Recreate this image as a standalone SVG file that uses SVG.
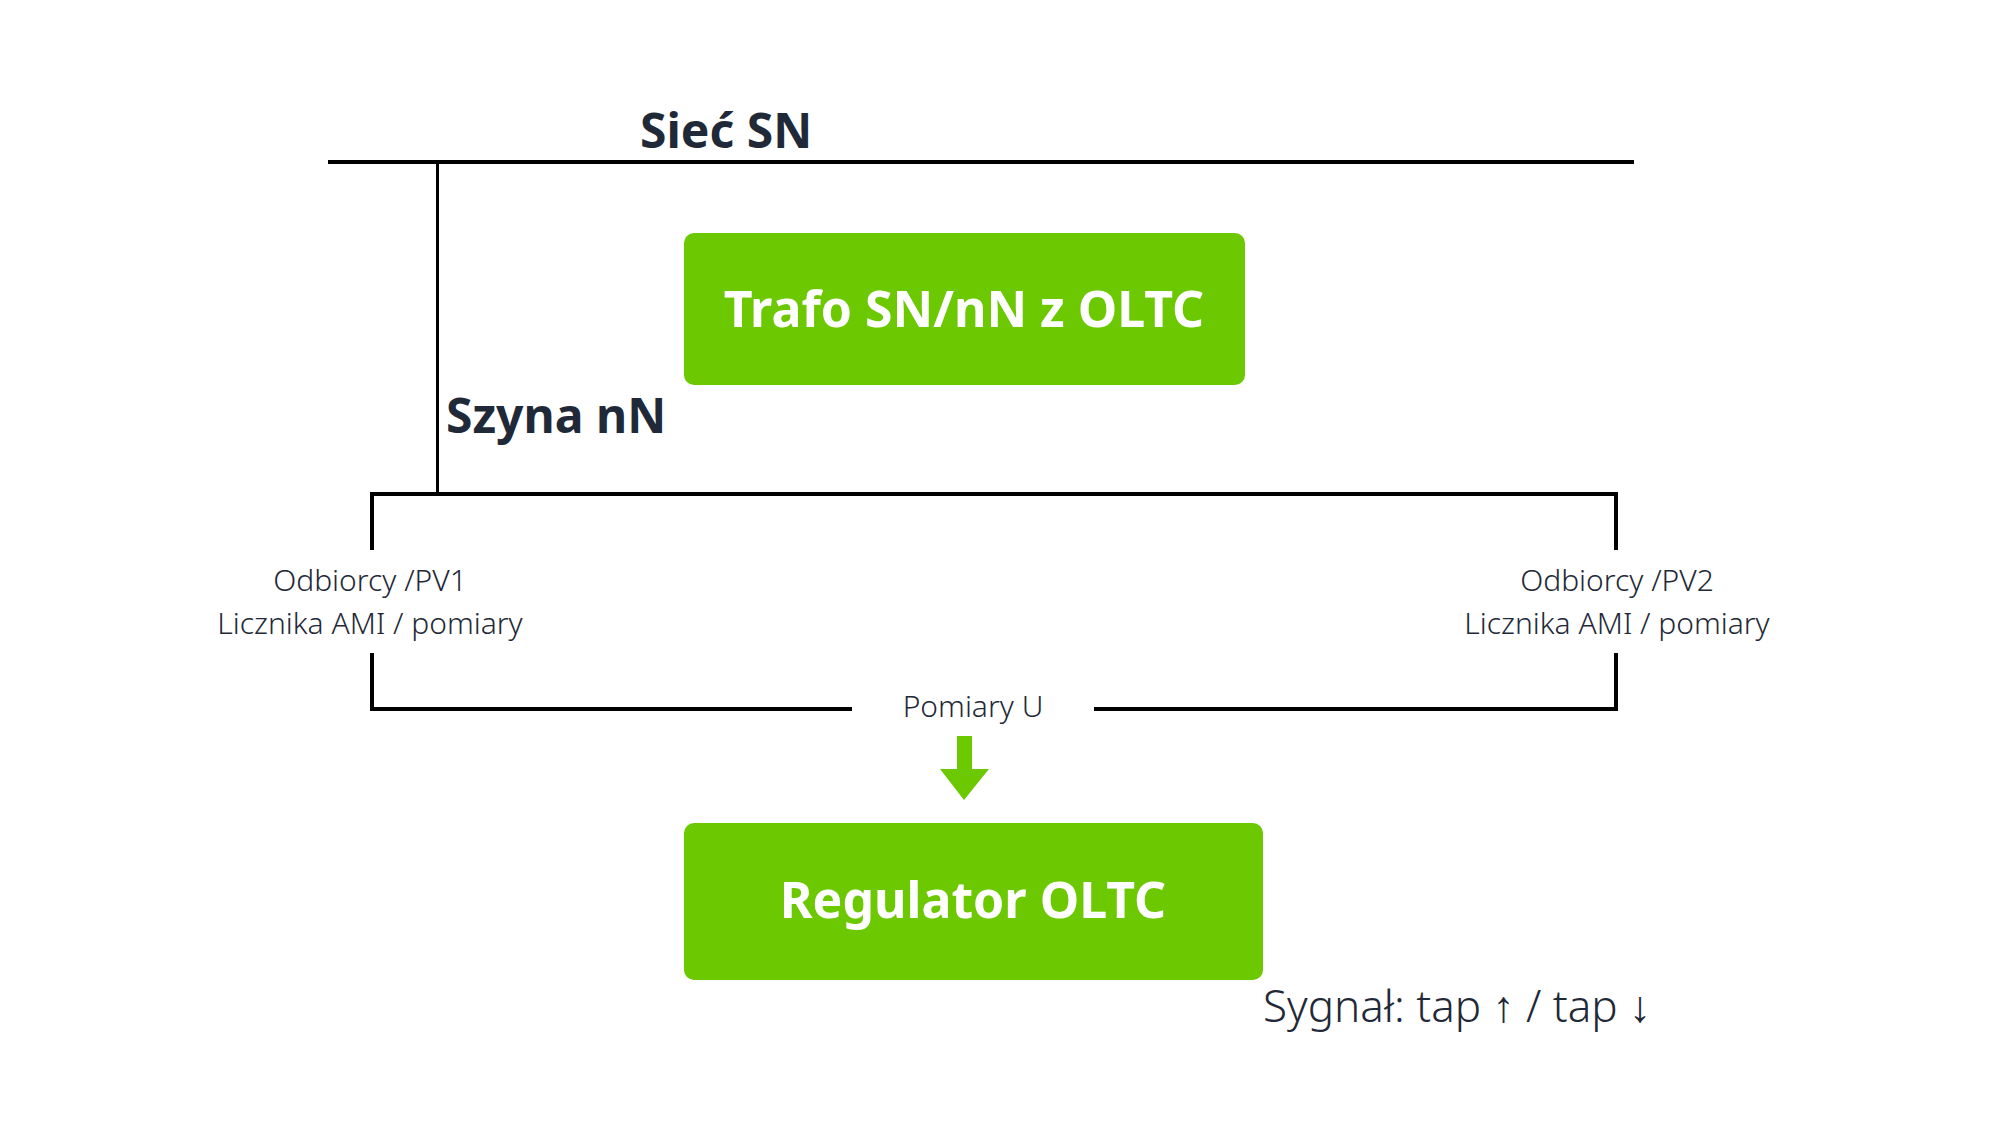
<svg xmlns="http://www.w3.org/2000/svg" width="2000" height="1125" viewBox="0 0 2000 1125">
<style>
.ln{stroke:#000;stroke-width:4;fill:none}
.box{fill:#6cc800}
.bt{font-family:"Noto Sans","Open Sans",sans-serif;font-weight:700;fill:#fff;font-size:50px;text-anchor:middle}
.hd{font-family:"Noto Sans","Open Sans",sans-serif;font-weight:700;fill:#1f2937;font-size:48px}
.lb{font-family:"Noto Sans","Open Sans",sans-serif;font-weight:300;fill:#1f2937;font-size:30px;text-anchor:middle}
</style>
<rect width="2000" height="1125" fill="#fff"/>
<g id="connectors">
<line class="ln" x1="328" y1="162" x2="1634" y2="162"/>
<line class="ln" x1="437.5" y1="162" x2="437.5" y2="494" style="stroke-width:3"/>
<polyline class="ln" points="372,550 372,494 1616,494 1616,550"/>
<polyline class="ln" points="372,653 372,709 852,709"/>
<polyline class="ln" points="1094,709 1616,709 1616,653"/>
<polygon class="box" points="957,736 972,736 972,769 989,769 964,800 940,769 957,769"/>
</g>
<g id="siec"><text class="hd" x="640" y="148">Sieć SN</text></g>
<g id="szyna"><text class="hd" x="446" y="433">Szyna nN</text></g>
<g id="trafo"><rect class="box" x="684" y="233" width="561" height="152" rx="10"/><text class="bt" x="964" y="327">Trafo SN/nN z OLTC</text></g>
<g id="odb1"><text class="lb" x="370" y="591">Odbiorcy /PV1</text><text class="lb" x="370" y="634">Licznika AMI / pomiary</text></g>
<g id="odb2"><text class="lb" x="1617" y="591">Odbiorcy /PV2</text><text class="lb" x="1617" y="634">Licznika AMI / pomiary</text></g>
<g id="pomiar"><text class="lb" x="973" y="717">Pomiary U</text></g>
<g id="regulator"><rect class="box" x="684" y="823" width="579" height="157" rx="10"/><text class="bt" x="973" y="918">Regulator OLTC</text></g>
<g id="sygnal"><text class="lb" style="text-anchor:start;font-size:44px" x="1263" y="1022">Sygnał: tap ↑ / tap ↓</text></g>
</svg>
